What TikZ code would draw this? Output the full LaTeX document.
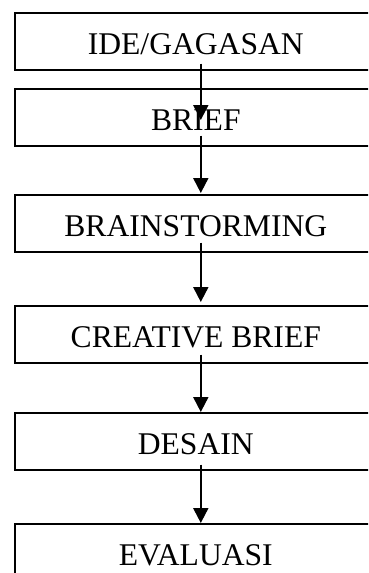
\documentclass[tikz,border=0pt]{standalone}
\usepackage{fontspec}
\setmainfont{Liberation Serif}
\usetikzlibrary{arrows.meta}
\begin{document}
\begin{tikzpicture}[x=1pt,y=-1pt,
  stepbox/.style={draw=black, line width=1.6pt, rectangle, anchor=north west,
    minimum width=362pt, minimum height=57pt, inner sep=0pt,
    text height=26pt, text depth=0pt,
    font=\fontsize{31.6}{36}\selectfont},
  flow/.style={line width=2pt, -{Triangle[length=15pt,width=15pt]}}]
\useasboundingbox (0,0) rectangle (368,573);
\clip (0,0) rectangle (368,573);
\node[stepbox] (b1) at (14,12) {IDE/GAGASAN};
\node[stepbox] (b2) at (14,88) {BRIEF};
\node[stepbox] (b3) at (14,194) {BRAINSTORMING};
\node[stepbox] (b4) at (14,305) {CREATIVE BRIEF};
\node[stepbox] (b5) at (14,412) {DESAIN};
\node[stepbox] (b6) at (14,523) {EVALUASI};
\draw[flow] ([xshift=5pt,yshift=7pt]b1.south) -- ([xshift=5pt,yshift=-32pt]b2.north);
\draw[flow] ([xshift=5pt,yshift=11pt]b2.south) -- ([xshift=5pt,yshift=1pt]b3.north);
\draw[flow] ([xshift=5pt,yshift=10pt]b3.south) -- ([xshift=5pt,yshift=3pt]b4.north);
\draw[flow] ([xshift=5pt,yshift=9pt]b4.south) -- ([xshift=5pt]b5.north);
\draw[flow] ([xshift=5pt,yshift=6pt]b5.south) -- ([xshift=5pt]b6.north);
\end{tikzpicture}
\end{document}
